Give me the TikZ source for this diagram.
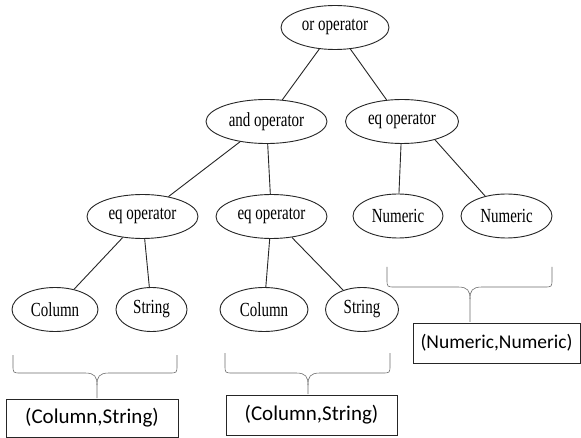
\documentclass[tikz,border=0pt]{standalone}
\usepackage{fontspec}
\usetikzlibrary{shapes.geometric}
\newfontfamily\treefont[FakeStretch=0.75]{Liberation Serif}
\newfontfamily\boxfont{Carlito}
\tikzset{
  onode/.style={draw=black!85, line width=0.9pt, ellipse, inner sep=0pt,
     minimum height=44pt, font=\treefont\fontsize{20}{23}\selectfont},
  edge/.style={draw=black!85, line width=0.9pt},
  tuplebox/.style={draw=black!85, line width=0.8pt, rectangle, inner sep=0pt,
     font=\boxfont\fontsize{21}{24}\selectfont},
  bracestyle/.style={draw={rgb,255:red,110;green,110;blue,110}, line width=0.6pt}
}
\newcommand\mybrace[6]{%
  \draw[bracestyle] (#1,#3) -- (#1,#4-8) .. controls (#1,#4) .. (#1+8,#4) -- (#5-12,#4)
     .. controls (#5-2,#4) and (#5,#4+4) .. (#5,#4+12) -- (#5,#6);
  \draw[bracestyle] (#2,#3) -- (#2,#4-8) .. controls (#2,#4) .. (#2-8,#4) -- (#5+12,#4)
     .. controls (#5+2,#4) and (#5,#4+4) .. (#5,#4+12);
}
\begin{document}
\begin{tikzpicture}[x=1pt,y=-1pt]
\useasboundingbox[fill=white] (0,0) rectangle (581,438);
% tree nodes
\node[onode, minimum width=108pt] (or) at (335,27.5) {or operator};
\node[onode, minimum width=121pt] (and) at (266.5,121.5) {and operator};
\node[onode, minimum width=113pt] (eqR) at (402,121.5) {eq operator};
\node[onode, minimum width=111pt] (eqL) at (142.5,216.5) {eq operator};
\node[onode, minimum width=111pt] (eqM) at (271.5,216.5) {eq operator};
\node[onode, minimum width=90pt] (numL) at (398,216) {Numeric};
\node[onode, minimum width=91pt] (numR) at (506.5,216) {Numeric};
\node[onode, minimum width=86pt] (colL) at (55,309.5) {Column};
\node[onode, minimum width=71pt] (strL) at (151.5,309.5) {String};
\node[onode, minimum width=88pt] (colM) at (264,309.5) {Column};
\node[onode, minimum width=73pt] (strM) at (362,309.5) {String};
% edges
\draw[edge] (or) -- (and);
\draw[edge] (or) -- (eqR);
\draw[edge] (and) -- (eqL);
\draw[edge] (and) -- (eqM);
\draw[edge] (eqR) -- (numL);
\draw[edge] (eqR.-29) -- (numR.137);
\draw[edge] (eqL) -- (colL);
\draw[edge] (eqL) -- (strL);
\draw[edge] (eqM) -- (colM);
\draw[edge] (eqM) -- (strM);
% braces
\mybrace{13}{177}{355}{373}{97}{398}
\mybrace{225}{390}{353}{373}{308}{394}
\mybrace{387}{552}{267}{287}{470}{322}
% tuple boxes
\node[tuplebox, minimum width=172pt, minimum height=38pt] (box1) at (92,418) {(Column,String)};
\node[tuplebox, minimum width=171pt, minimum height=40pt] (box2) at (311.5,415) {(Column,String)};
\node[tuplebox, minimum width=167pt, minimum height=40pt, font=\boxfont\fontsize{19.5}{23}\selectfont] (box3) at (496.5,343) {(Numeric,Numeric)};
\end{tikzpicture}
\end{document}
